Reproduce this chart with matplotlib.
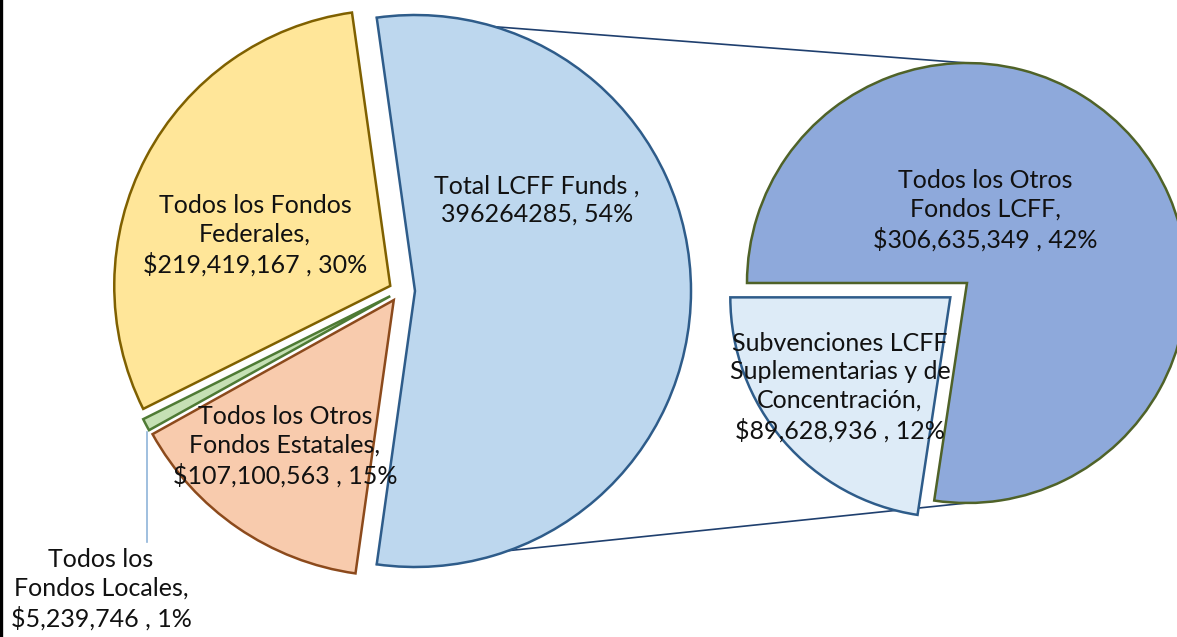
import matplotlib
matplotlib.use("Agg")
import matplotlib.pyplot as plt
from matplotlib.lines import Line2D
import numpy as np

# ---- data ----
main_labels = ["Total LCFF Funds", "Todos los Fondos Federales", "Todos los Fondos Locales",
               "Todos los Otros Fondos Estatales"]
main_values = [396264285, 219419167, 5239746, 107100563]
sub_labels = ["Todos los Otros Fondos LCFF", "Subvenciones LCFF Suplementarias y de Concentración"]
sub_values = [306635349, 89628936]

main_colors = ["#BDD7EE", "#FFE699", "#C5E0B4", "#F8CBAD"]
main_edges = ["#2E5C8A", "#7F6000", "#4E7A34", "#8C4A1C"]
sub_colors = ["#8EA9DB", "#DDEBF7"]
sub_edges = ["#4F6228", "#2E5C8A"]

W, H = 1177, 637
fig = plt.figure(figsize=(W / 100, H / 100), dpi=100)
ax = fig.add_axes([0, 0, 1, 1])

FONT = "Lato"
FS = 18

# left pie geometry (pixel coords, y up); explode is in data units (pixels)
c1 = (400, H - 291)
r1 = 276
expl1 = [15, 11, 11, 11]
frac_lcff = main_values[0] / sum(main_values)
start1 = -frac_lcff * 180
wedges1, _ = ax.pie(main_values, center=c1, radius=r1, startangle=start1, counterclock=True,
                    colors=main_colors, explode=expl1,
                    wedgeprops=dict(linewidth=1.8), frame=False)
for w, ec in zip(wedges1, main_edges):
    w.set_edgecolor(ec)
    w.set_zorder(2)

# right pie
c2 = (967, H - 283)
r2 = 220
expl2 = [0, 22]
frac_otros = sub_values[0] / sum(sub_values)
start2 = 180 - frac_otros * 360
wedges2, _ = ax.pie(sub_values, center=c2, radius=r2, startangle=start2, counterclock=True,
                    colors=sub_colors, explode=expl2,
                    wedgeprops=dict(linewidth=1.8), frame=False)
for w, ec in zip(wedges2, sub_edges):
    w.set_edgecolor(ec)
    w.set_zorder(2)

ax.set_xlim(0, W)
ax.set_ylim(0, H)
ax.set_aspect("equal")
ax.axis("off")

# connector lines
theta = np.deg2rad(frac_lcff * 180)
apex = (c1[0] + expl1[0], c1[1])
top_pt = (apex[0] + r1 * np.cos(theta), apex[1] + r1 * np.sin(theta))
bot_pt = (apex[0] + r1 * np.cos(theta), apex[1] - r1 * np.sin(theta))
ax.plot([top_pt[0], c2[0]], [top_pt[1], c2[1] + r2], color="#1F3F6E", lw=1.2, zorder=1)
ax.plot([bot_pt[0], c2[0]], [bot_pt[1], c2[1] - r2], color="#1F3F6E", lw=1.2, zorder=1)

# leader line for small slice
ax.plot([147, 147], [H - 432, H - 542], color="#8FB4D9", lw=1.2, zorder=3)

def fmt(v):
    return "${:,}".format(v)

tot = sum(main_values)
pct = lambda v: "{:.0f}%".format(100 * v / tot)

texts = [
    (537, 200, "Total LCFF Funds ,\n{}, {}".format(main_values[0], pct(main_values[0]))),
    (255, 235, "Todos los Fondos\nFederales,\n{} , {}".format(fmt(main_values[1]), pct(main_values[1]))),
    (101, 589, "Todos los\nFondos Locales,\n{} , {}".format(fmt(main_values[2]), pct(main_values[2]))),
    (285, 446, "Todos los Otros\nFondos Estatales,\n{} , {}".format(fmt(main_values[3]), pct(main_values[3]))),
    (985, 210, "Todos los Otros\nFondos LCFF,\n{} , {}".format(fmt(sub_values[0]), pct(sub_values[0]))),
    (840, 387, "Subvenciones LCFF\nSuplementarias y de\nConcentración,\n{} , {}".format(fmt(sub_values[1]), pct(sub_values[1]))),
]
for x, y, s in texts:
    ax.text(x, H - y, s, ha="center", va="center", fontsize=FS, family=FONT,
            linespacing=1.3, color="#111111", zorder=5)

# left border
fig.add_artist(Line2D([0.0012, 0.0012], [0, 1], transform=fig.transFigure, color="black", lw=2.4))

fig.savefig("out.png", dpi=100, facecolor="white")
